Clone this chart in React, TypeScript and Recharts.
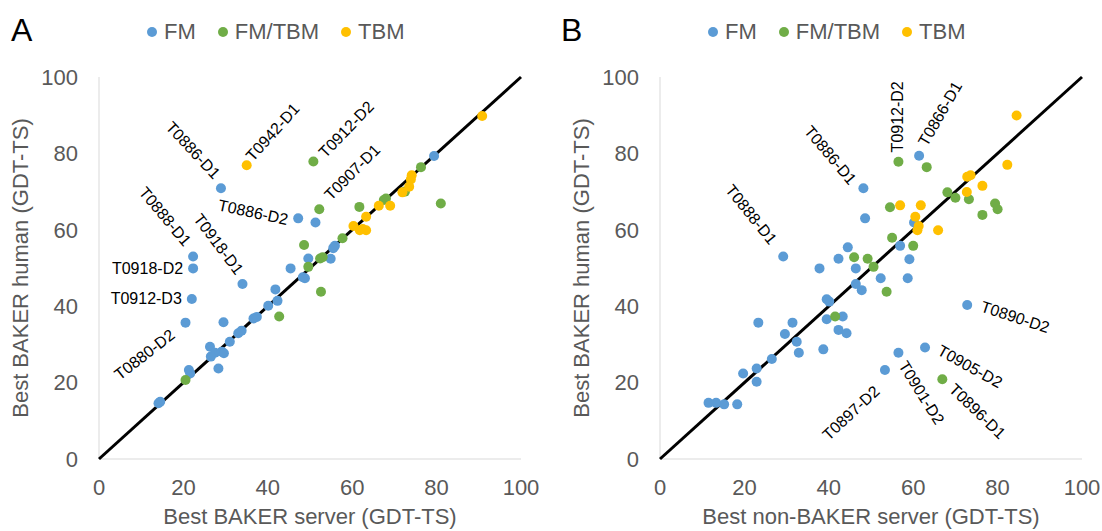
import React from 'react';
import { ScatterChart, Scatter, XAxis, YAxis, Legend } from 'recharts';

const FONT = '"Liberation Sans", Arial, sans-serif';
const AXIS_GRAY = '#595959';

// Axis ticks (both panels)
const TICKS = [0, 20, 40, 60, 80, 100];
const DIAGONAL = [
  { x: 0, y: 0 },
  { x: 100, y: 100 },
];

type Pt = [number, number, string?];

// Panel A: Best BAKER server (x) vs Best BAKER human (y)
const FM_A: Pt[] = [
  [22.3, 53.0, 'T0888-D1'], [22.3, 49.9, 'T0918-D2'], [22.0, 41.9, 'T0912-D3'], [20.5, 35.7, 'T0880-D2'],
  [34.0, 45.8, 'T0918-D1'], [28.9, 70.9, 'T0886-D1'], [47.2, 63.0, 'T0886-D2'],
  [29.5, 35.8], [51.3, 61.9], [45.4, 49.9], [49.6, 52.5], [48.8, 47.3], [48.3, 47.6],
  [54.9, 52.4], [55.9, 55.8], [55.5, 55.2], [41.8, 44.4], [42.3, 41.4], [40.1, 40.1],
  [36.6, 36.8], [37.4, 37.2], [33.0, 32.9], [33.8, 33.6], [31.0, 30.7], [26.3, 29.4],
  [27.5, 27.8], [29.1, 28.1], [29.6, 27.7], [26.5, 26.8], [28.3, 23.7], [21.3, 23.3],
  [21.6, 22.4], [14.1, 14.6], [14.5, 15.0], [79.4, 79.3],
];
const MIXED_A: Pt[] = [
  [50.8, 77.9, 'T0912-D2'], [52.2, 65.4, 'T0907-D1'],
  [48.6, 56.0], [52.4, 52.5], [53.0, 52.8], [49.6, 50.3], [57.7, 57.8], [52.6, 43.8],
  [42.7, 37.3], [20.5, 20.7], [61.7, 66.0], [68.0, 68.2], [67.5, 67.8], [76.3, 76.4],
  [81.0, 66.9], [72.5, 70.0],
];
const TBM_A: Pt[] = [
  [35.0, 76.9, 'T0942-D1'],
  [90.8, 89.8], [74.1, 74.3], [73.9, 73.2], [73.5, 71.3], [71.9, 69.8], [69.0, 66.3],
  [66.3, 66.3], [63.3, 63.4], [60.3, 61.0], [61.8, 59.9], [63.3, 59.9], [62.5, 60.2],
];

// Panel B: Best non-BAKER server (x) vs Best BAKER human (y)
const FM_B: Pt[] = [
  [29.2, 53.0, 'T0888-D1'], [48.2, 70.9, 'T0886-D1'], [61.4, 79.4, 'T0866-D1'],
  [72.8, 40.3, 'T0890-D2'], [62.8, 29.2, 'T0905-D2'], [56.5, 27.8, 'T0901-D2'], [53.3, 23.3, 'T0897-D2'],
  [37.8, 49.9], [42.3, 52.4], [44.5, 55.4], [46.4, 49.9], [46.4, 45.8], [47.8, 44.2],
  [39.5, 41.8], [40.1, 41.2], [43.3, 37.3], [39.5, 36.6], [42.3, 33.8], [44.2, 32.9],
  [38.7, 28.7], [23.3, 35.7], [31.4, 35.7], [29.6, 32.7], [32.4, 30.7], [32.9, 27.8],
  [26.5, 26.2], [22.9, 23.7], [19.7, 22.4], [22.9, 20.2], [11.5, 14.7], [13.3, 14.7],
  [15.2, 14.3], [18.3, 14.3], [48.6, 63.0], [60.2, 61.9], [56.9, 55.8], [59.1, 52.3],
  [52.3, 47.3], [58.7, 47.3],
];
const MIXED_B: Pt[] = [
  [56.5, 77.8, 'T0912-D2'], [66.9, 20.9, 'T0896-D1'],
  [63.2, 76.4], [54.5, 65.9], [68.1, 69.8], [70.0, 68.4], [73.2, 68.0], [79.4, 66.9],
  [80.0, 65.4], [76.4, 63.9], [55.0, 57.9], [60.0, 55.8], [46.0, 52.8], [49.2, 52.4],
  [50.6, 50.3], [53.7, 43.8], [41.5, 37.3],
];
const TBM_B: Pt[] = [
  [84.5, 89.9], [82.3, 77.0], [72.8, 73.9], [73.6, 74.3], [76.4, 71.5], [72.7, 69.9],
  [56.9, 66.4], [61.8, 66.4], [60.5, 63.4], [61.3, 61.0], [61.0, 59.9], [65.9, 59.9],
];

const SERIES = [
  { name: 'FM', color: '#5B9BD5' },
  { name: 'FM/TBM', color: '#70AD47' },
  { name: 'TBM', color: '#FFC000' },
];

type LabelPos = { dx: number; dy: number; angle: number; anchor?: 'start' | 'middle' | 'end' };

// where each target name sits relative to its dot (pixels)
const LABELS_A: Record<string, LabelPos> = {
  'T0886-D1': { dx: -28, dy: -38, angle: 47 },
  'T0942-D1': { dx: 26, dy: -33, angle: -48 },
  'T0912-D2': { dx: 33, dy: -32, angle: -46 },
  'T0907-D1': { dx: 33, dy: -37, angle: -45 },
  'T0886-D2': { dx: -45, dy: -6, angle: 12 },
  'T0888-D1': { dx: -28, dy: -40, angle: 50 },
  'T0918-D1': { dx: -24, dy: -40, angle: 53 },
  'T0918-D2': { dx: -10, dy: 0, angle: 0, anchor: 'end' },
  'T0912-D3': { dx: -10, dy: 0, angle: 0, anchor: 'end' },
  'T0880-D2': { dx: -41, dy: 32, angle: -38 },
};
const LABELS_B: Record<string, LabelPos> = {
  'T0888-D1': { dx: -32, dy: -42, angle: 51 },
  'T0886-D1': { dx: -33, dy: -33, angle: 50 },
  'T0912-D2': { dx: -1, dy: -45, angle: -90 },
  'T0866-D1': { dx: 21, dy: -42, angle: -60 },
  'T0890-D2': { dx: 48, dy: 12, angle: 18 },
  'T0905-D2': { dx: 45, dy: 19, angle: 29 },
  'T0896-D1': { dx: 35, dy: 32, angle: 44 },
  'T0901-D2': { dx: 23, dy: 40, angle: 58 },
  'T0897-D2': { dx: -34, dy: 43, angle: -43 },
};

const toPts = (arr: Pt[]) => arr.map(([x, y, id]) => ({ x, y, id }));

const makeDot = (color: string, labels: Record<string, LabelPos>) => (props: any) => {
  const { cx, cy, payload } = props;
  const pos = payload && payload.id ? labels[payload.id] : undefined;
  const lx = cx + (pos ? pos.dx : 0);
  const ly = cy + (pos ? pos.dy : 0);
  return (
    <g>
      <circle cx={cx} cy={cy} r={5} fill={color} />
      {pos && (
        <text
          x={lx}
          y={ly}
          textAnchor={pos.anchor || 'middle'}
          dominantBaseline="central"
          transform={`rotate(${pos.angle} ${lx} ${ly})`}
          fontSize={16}
          fontFamily={FONT}
          fill="#000"
        >
          {payload.id}
        </text>
      )}
    </g>
  );
};

const renderLegend = (props: any) => {
  const items = (props.payload || []).filter((p: any) => p.type !== 'none');
  return (
    <div style={{ display: 'flex', alignItems: 'center', fontFamily: FONT, fontSize: 22, lineHeight: '24px', color: AXIS_GRAY, whiteSpace: 'nowrap' }}>
      {items.map((p: any) => (
        <span key={p.value} style={{ display: 'flex', alignItems: 'center', marginRight: 22 }}>
          <span style={{ width: 10, height: 10, borderRadius: 5, background: p.color, marginRight: 7, display: 'inline-block' }} />
          {p.value}
        </span>
      ))}
    </div>
  );
};

interface PanelProps {
  width: number;
  fm: Pt[];
  mixed: Pt[];
  tbm: Pt[];
  labels: Record<string, LabelPos>;
  xTitle: string;
  yTitle: string;
}

const Panel: React.FC<PanelProps> = ({ width, fm, mixed, tbm, labels, xTitle, yTitle }) => {
  const groups = [fm, mixed, tbm];
  return (
    <ScatterChart width={width} height={531} margin={{ top: 77, right: width - 521, bottom: 42, left: 39 }}>
      <XAxis
        type="number"
        dataKey="x"
        domain={[0, 100]}
        ticks={TICKS}
        height={30}
        tickSize={0}
        tickMargin={20}
        tickLine={false}
        axisLine={{ stroke: '#D9D9D9' }}
        tick={{ fill: AXIS_GRAY, fontSize: 22, fontFamily: FONT }}
        label={{
          content: (p: any) => {
            const vb = p.viewBox;
            return (
              <text x={vb.x + vb.width / 2} y={vb.y + 65} textAnchor="middle" fontSize={22} fontFamily={FONT} fill={AXIS_GRAY}>
                {xTitle}
              </text>
            );
          },
        }}
      />
      <YAxis
        type="number"
        dataKey="y"
        domain={[0, 100]}
        ticks={TICKS}
        width={60}
        tickSize={0}
        tickMargin={21}
        tickLine={false}
        axisLine={{ stroke: '#D9D9D9' }}
        tick={{ fill: AXIS_GRAY, fontSize: 22, fontFamily: FONT }}
        label={{
          content: (p: any) => {
            const vb = p.viewBox;
            const x = vb.x - 11;
            const y = vb.y + vb.height / 2;
            return (
              <text x={x} y={y} textAnchor="middle" transform={`rotate(-90 ${x} ${y})`} fontSize={22} fontFamily={FONT} fill={AXIS_GRAY}>
                {yTitle}
              </text>
            );
          },
        }}
      />
      <Legend
        layout="horizontal"
        verticalAlign="middle"
        align="center"
        content={renderLegend}
        wrapperStyle={{ top: 20, left: 147, width: 'auto', height: 24 }}
      />
      <Scatter
        data={DIAGONAL}
        line={{ stroke: '#000', strokeWidth: 3 }}
        shape={() => <g />}
        legendType="none"
        isAnimationActive={false}
      />
      {SERIES.map((s, i) => (
        <Scatter
          key={s.name}
          name={s.name}
          data={toPts(groups[i])}
          fill={s.color}
          shape={makeDot(s.color, labels)}
          isAnimationActive={false}
        />
      ))}
    </ScatterChart>
  );
};

const letterStyle: React.CSSProperties = {
  position: 'absolute',
  top: 14,
  fontFamily: FONT,
  fontSize: 32,
  lineHeight: '32px',
  color: '#000',
};

export default function App() {
  return (
    <div style={{ position: 'fixed', left: 0, top: 0, width: 1102, height: 531, background: '#fff', overflow: 'hidden' }}>
      <div style={{ position: 'absolute', left: 0, top: 0 }}>
        <Panel
          width={551}
          fm={FM_A}
          mixed={MIXED_A}
          tbm={TBM_A}
          labels={LABELS_A}
          xTitle="Best BAKER server (GDT-TS)"
          yTitle="Best BAKER human (GDT-TS)"
        />
      </div>
      <div style={{ position: 'absolute', left: 561, top: 0 }}>
        <Panel
          width={541}
          fm={FM_B}
          mixed={MIXED_B}
          tbm={TBM_B}
          labels={LABELS_B}
          xTitle="Best non-BAKER server (GDT-TS)"
          yTitle="Best BAKER human (GDT-TS)"
        />
      </div>
      <div style={{ ...letterStyle, left: 11 }}>A</div>
      <div style={{ ...letterStyle, left: 561 }}>B</div>
    </div>
  );
}
